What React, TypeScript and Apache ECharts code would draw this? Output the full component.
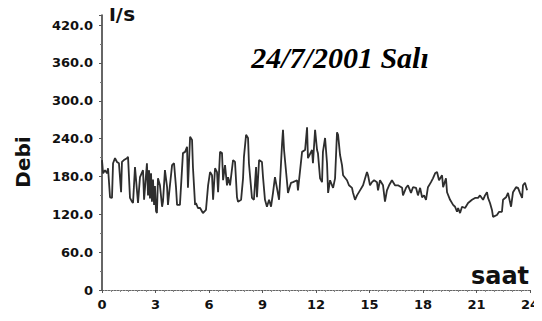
import React, { useEffect, useRef } from 'react';
import * as echarts from 'echarts';

// time of day (hours) and flow (l/s)
const hours = [
  0.00, 0.06, 0.17, 0.28, 0.34, 0.45, 0.56, 0.62, 0.73, 0.84,
  0.95, 1.07, 1.12, 1.23, 1.40, 1.46, 1.57, 1.68, 1.74, 1.85,
  1.96, 2.02, 2.13, 2.30, 2.36, 2.52, 2.58, 2.64, 2.69, 2.75,
  2.80, 2.86, 2.92, 2.97, 3.03, 3.08, 3.14, 3.25, 3.37, 3.42,
  3.53, 3.65, 3.70, 3.81, 3.93, 4.04, 4.15, 4.21, 4.37, 4.54,
  4.66, 4.77, 4.82, 4.94, 5.05, 5.10, 5.22, 5.27, 5.38, 5.50,
  5.66, 5.83, 5.95, 6.06, 6.17, 6.23, 6.34, 6.45, 6.51, 6.62,
  6.73, 6.79, 6.90, 7.01, 7.07, 7.18, 7.35, 7.46, 7.57, 7.63,
  7.80, 7.91, 7.96, 8.08, 8.19, 8.24, 8.41, 8.52, 8.64, 8.69,
  8.81, 8.97, 9.03, 9.14, 9.25, 9.37, 9.48, 9.59, 9.70, 9.81,
  9.93, 10.10, 10.15, 10.21, 10.38, 10.43, 10.60, 10.71, 10.94, 10.99,
  11.22, 11.39, 11.50, 11.55, 11.78, 11.83, 11.95, 12.06, 12.11, 12.23,
  12.34, 12.39, 12.51, 12.62, 12.68, 12.79, 12.90, 12.96, 13.07, 13.18,
  13.24, 13.35, 13.46, 13.52, 13.74, 13.85, 14.02, 14.07, 14.19, 14.30,
  14.47, 14.64, 14.86, 14.92, 15.03, 15.14, 15.26, 15.42, 15.48, 15.59,
  15.76, 15.87, 15.98, 16.10, 16.26, 16.43, 16.60, 16.83, 16.88, 17.05,
  17.16, 17.33, 17.44, 17.61, 17.72, 17.84, 17.95, 18.06, 18.17, 18.28,
  18.45, 18.56, 18.68, 18.79, 18.90, 19.07, 19.13, 19.29, 19.35, 19.52,
  19.69, 19.80, 19.91, 19.97, 20.08, 20.19, 20.36, 20.53, 20.75, 20.92,
  21.09, 21.20, 21.37, 21.48, 21.59, 21.65, 21.76, 21.87, 21.93, 22.15,
  22.27, 22.43, 22.49, 22.66, 22.77, 22.94, 23.05, 23.22, 23.33, 23.44,
  23.56, 23.61, 23.72, 23.84,
];

const flow = [
  206, 185, 190, 185, 193, 147, 146, 201, 209, 203,
  201, 155, 203, 206, 209, 211, 146, 140, 138, 195,
  158, 138, 179, 190, 143, 201, 150, 190, 145, 185,
  140, 175, 135, 165, 125, 122, 177, 166, 132, 140,
  190, 163, 135, 166, 198, 201, 163, 135, 135, 217,
  219, 227, 162, 243, 238, 195, 135, 138, 130, 130,
  122, 127, 166, 187, 182, 143, 193, 187, 155, 219,
  217, 174, 198, 166, 179, 166, 206, 203, 147, 140,
  143, 177, 211, 246, 241, 201, 146, 143, 195, 147,
  206, 203, 179, 143, 132, 143, 132, 154, 179, 162,
  143, 233, 254, 222, 170, 154, 170, 171, 174, 158,
  219, 222, 258, 209, 222, 201, 254, 222, 217, 177,
  171, 219, 241, 201, 154, 174, 166, 162, 177, 250,
  246, 214, 198, 182, 174, 166, 162, 155, 143, 150,
  158, 166, 187, 182, 166, 171, 174, 171, 158, 174,
  166, 140, 158, 166, 174, 166, 166, 162, 150, 162,
  166, 154, 163, 162, 150, 162, 147, 150, 143, 163,
  171, 177, 185, 187, 174, 182, 163, 177, 155, 143,
  135, 132, 124, 130, 122, 132, 130, 138, 143, 146,
  146, 150, 143, 150, 155, 146, 138, 127, 116, 119,
  124, 124, 143, 147, 154, 132, 155, 163, 162, 154,
  146, 166, 170, 158,
];

const titleText = '24/7/2001 Salı';
const yUnit = 'l/s';
const yName = 'Debi';
const xName = 'saat';

const labelFont = 'DejaVu Sans';

export default function App() {
  const ref = useRef<HTMLDivElement>(null);

  useEffect(() => {
    if (!ref.current) return;
    const chart = echarts.init(ref.current, null, { renderer: 'svg' });
    const data = hours.map((h, i) => [h, flow[i]]);
    chart.setOption({
      animation: false,
      backgroundColor: '#ffffff',
      grid: { left: 102, right: 12, top: 15, bottom: 31 },
      xAxis: {
        type: 'value',
        min: 0,
        max: 24,
        interval: 3,
        axisLine: { lineStyle: { color: '#666', width: 1, type: [2, 1] } },
        axisTick: { show: true, length: 3, lineStyle: { color: '#555' } },
        minorTick: { show: true, splitNumber: 6, length: 2, lineStyle: { color: '#888' } },
        splitLine: { show: false },
        axisLabel: {
          color: '#111',
          fontFamily: labelFont,
          fontWeight: 'bold',
          fontSize: 13,
          margin: 8,
        },
      },
      yAxis: {
        type: 'value',
        min: 0,
        max: 436,
        interval: 60,
        axisLine: { show: true, lineStyle: { color: '#333', width: 1.5 } },
        axisTick: { show: true, length: 3, lineStyle: { color: '#555' } },
        minorTick: { show: true, splitNumber: 2, length: 2, lineStyle: { color: '#777' } },
        splitLine: { show: false },
        axisLabel: {
          showMaxLabel: false,
          color: '#111',
          fontFamily: labelFont,
          fontWeight: 'bold',
          fontSize: 13,
          margin: 9,
          formatter: (v: number) => (v === 0 ? '0' : v > 420 ? '' : v.toFixed(1)),
        },
      },
      series: [
        {
          type: 'line',
          data,
          symbol: 'none',
          lineStyle: { color: '#2e2e2e', width: 1.8 },
        },
      ],
      graphic: [
        {
          type: 'text',
          x: 340,
          y: 57,
          style: {
            text: titleText,
            font: 'italic bold 30px "Liberation Serif"',
            fill: '#000',
            textAlign: 'center',
            textVerticalAlign: 'middle',
          },
        },
        {
          type: 'text',
          x: 109,
          y: 14,
          style: {
            text: yUnit,
            font: 'bold 20px "DejaVu Sans"',
            fill: '#111',
            textAlign: 'left',
            textVerticalAlign: 'middle',
          },
        },
        {
          type: 'text',
          x: 23,
          y: 162,
          rotation: Math.PI / 2,
          style: {
            text: yName,
            font: 'bold 20px "DejaVu Sans"',
            fill: '#111',
            textAlign: 'center',
            textVerticalAlign: 'middle',
          },
        },
        {
          type: 'text',
          x: 500,
          y: 276,
          style: {
            text: xName,
            font: 'bold 24px "DejaVu Sans"',
            fill: '#111',
            textAlign: 'center',
            textVerticalAlign: 'middle',
          },
        },
      ],
    });
    return () => chart.dispose();
  }, []);

  return <div ref={ref} style={{ width: 542, height: 321, margin: -8 }} />;
}
